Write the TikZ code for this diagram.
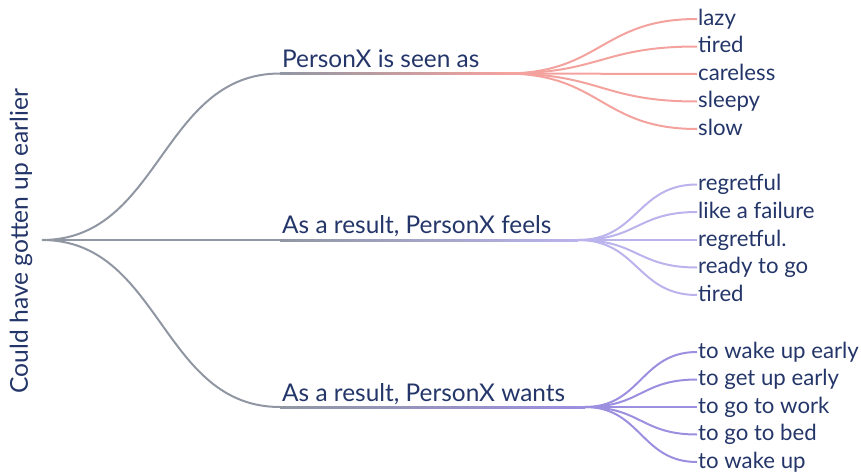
\documentclass[tikz,border=0pt]{standalone}
\usepackage{fontspec}
\setmainfont{Lato}
\definecolor{texto}{HTML}{243669}
\definecolor{cinza}{HTML}{9097A3}
\definecolor{rosa}{HTML}{F4A29E}
\definecolor{lilas}{HTML}{BAB3EC}
\definecolor{roxo}{HTML}{9C8FE0}
\begin{document}
\begin{tikzpicture}[x=1pt,y=-1pt,
ramo/.style={line width=2pt,color=cinza},
folha/.style={anchor=base west,inner sep=1pt,text=texto,
font=\fontsize{22.2}{26}\selectfont},
relacao/.style={anchor=base west,inner sep=0pt,text=texto,
font=\fontsize{24.4}{28}\selectfont}
]
\useasboundingbox (0,0) rectangle (861,471);

% raiz
\node[rotate=90,text=texto,font=\fontsize{24.6}{28}\selectfont]
(raiz) at (21,241) {Could have gotten up earlier};
\coordinate (r) at (42,240);

% relacoes
\coordinate (a1) at (280,73.5);
\coordinate (a2) at (280,240);
\coordinate (a3) at (280,407);
\coordinate (b1) at (505,73.5);
\coordinate (b2) at (578,240);
\coordinate (b3) at (585,407);
\node[relacao] (seen) at (282,67) {PersonX is seen as};
\node[relacao] (feels) at (282,233.5) {As a result, PersonX feels};
\node[relacao] (wants) at (282,401) {As a result, PersonX wants};

\draw[ramo] (r) .. controls +(119,0) and +(-119,0) .. (a1);
\draw[ramo] (r) -- (a2);
\draw[ramo] (r) .. controls +(119,0) and +(-119,0) .. (a3);
\shade[left color=cinza,right color=rosa]
([yshift=1pt]a1) rectangle ([yshift=-1pt]b1);
\shade[left color=cinza,right color=lilas]
([yshift=1pt]a2) rectangle ([yshift=-1pt]b2);
\shade[left color=cinza,right color=roxo]
([yshift=1pt]a3) rectangle ([yshift=-1pt]b3);

% folhas (linha de base 6pt abaixo do ramo)
\node[folha] (lazy) at (697,25) {lazy};
\node[folha] (tired) at (697,52.5) {tired};
\node[folha] (careless) at (697,80) {careless};
\node[folha] (sleepy) at (697,107.5) {sleepy};
\node[folha] (slow) at (697,135) {slow};
\node[folha] (regretful) at (697,190.5) {regretful};
\node[folha] (failure) at (697,218) {like a failure};
\node[folha] (regretful2) at (697,246) {regretful.};
\node[folha] (ready) at (697,273.5) {ready to go};
\node[folha] (tired2) at (697,301) {tired};
\node[folha] (wake) at (697,358) {to wake up early};
\node[folha] (getup) at (697,385.5) {to get up early};
\node[folha] (work) at (697,413) {to go to work};
\node[folha] (bed) at (697,440.5) {to go to bed};
\node[folha] (wakeup) at (697,468) {to wake up};

\draw[ramo,rosa] (b1) .. controls +(96,0) and +(-96,0) .. ([yshift=6pt]lazy.base west);
\draw[ramo,rosa] (b1) .. controls +(96,0) and +(-96,0) .. ([yshift=6pt]tired.base west);
\draw[ramo,rosa] (b1) -- ([yshift=6pt]careless.base west);
\draw[ramo,rosa] (b1) .. controls +(96,0) and +(-96,0) .. ([yshift=6pt]sleepy.base west);
\draw[ramo,rosa] (b1) .. controls +(96,0) and +(-96,0) .. ([yshift=6pt]slow.base west);

\draw[ramo,lilas] (b2) .. controls +(60,0) and +(-60,0) .. ([yshift=6pt]regretful.base west);
\draw[ramo,lilas] (b2) .. controls +(60,0) and +(-60,0) .. ([yshift=6pt]failure.base west);
\draw[ramo,lilas] (b2) -- ([yshift=6pt]regretful2.base west);
\draw[ramo,lilas] (b2) .. controls +(60,0) and +(-60,0) .. ([yshift=6pt]ready.base west);
\draw[ramo,lilas] (b2) .. controls +(60,0) and +(-60,0) .. ([yshift=6pt]tired2.base west);

\draw[ramo,roxo] (b3) .. controls +(56,0) and +(-56,0) .. ([yshift=6pt]wake.base west);
\draw[ramo,roxo] (b3) .. controls +(56,0) and +(-56,0) .. ([yshift=6pt]getup.base west);
\draw[ramo,roxo] (b3) -- ([yshift=6pt]work.base west);
\draw[ramo,roxo] (b3) .. controls +(56,0) and +(-56,0) .. ([yshift=6pt]bed.base west);
\draw[ramo,roxo] (b3) .. controls +(56,0) and +(-56,0) .. ([yshift=6pt]wakeup.base west);

\end{tikzpicture}
\end{document}
